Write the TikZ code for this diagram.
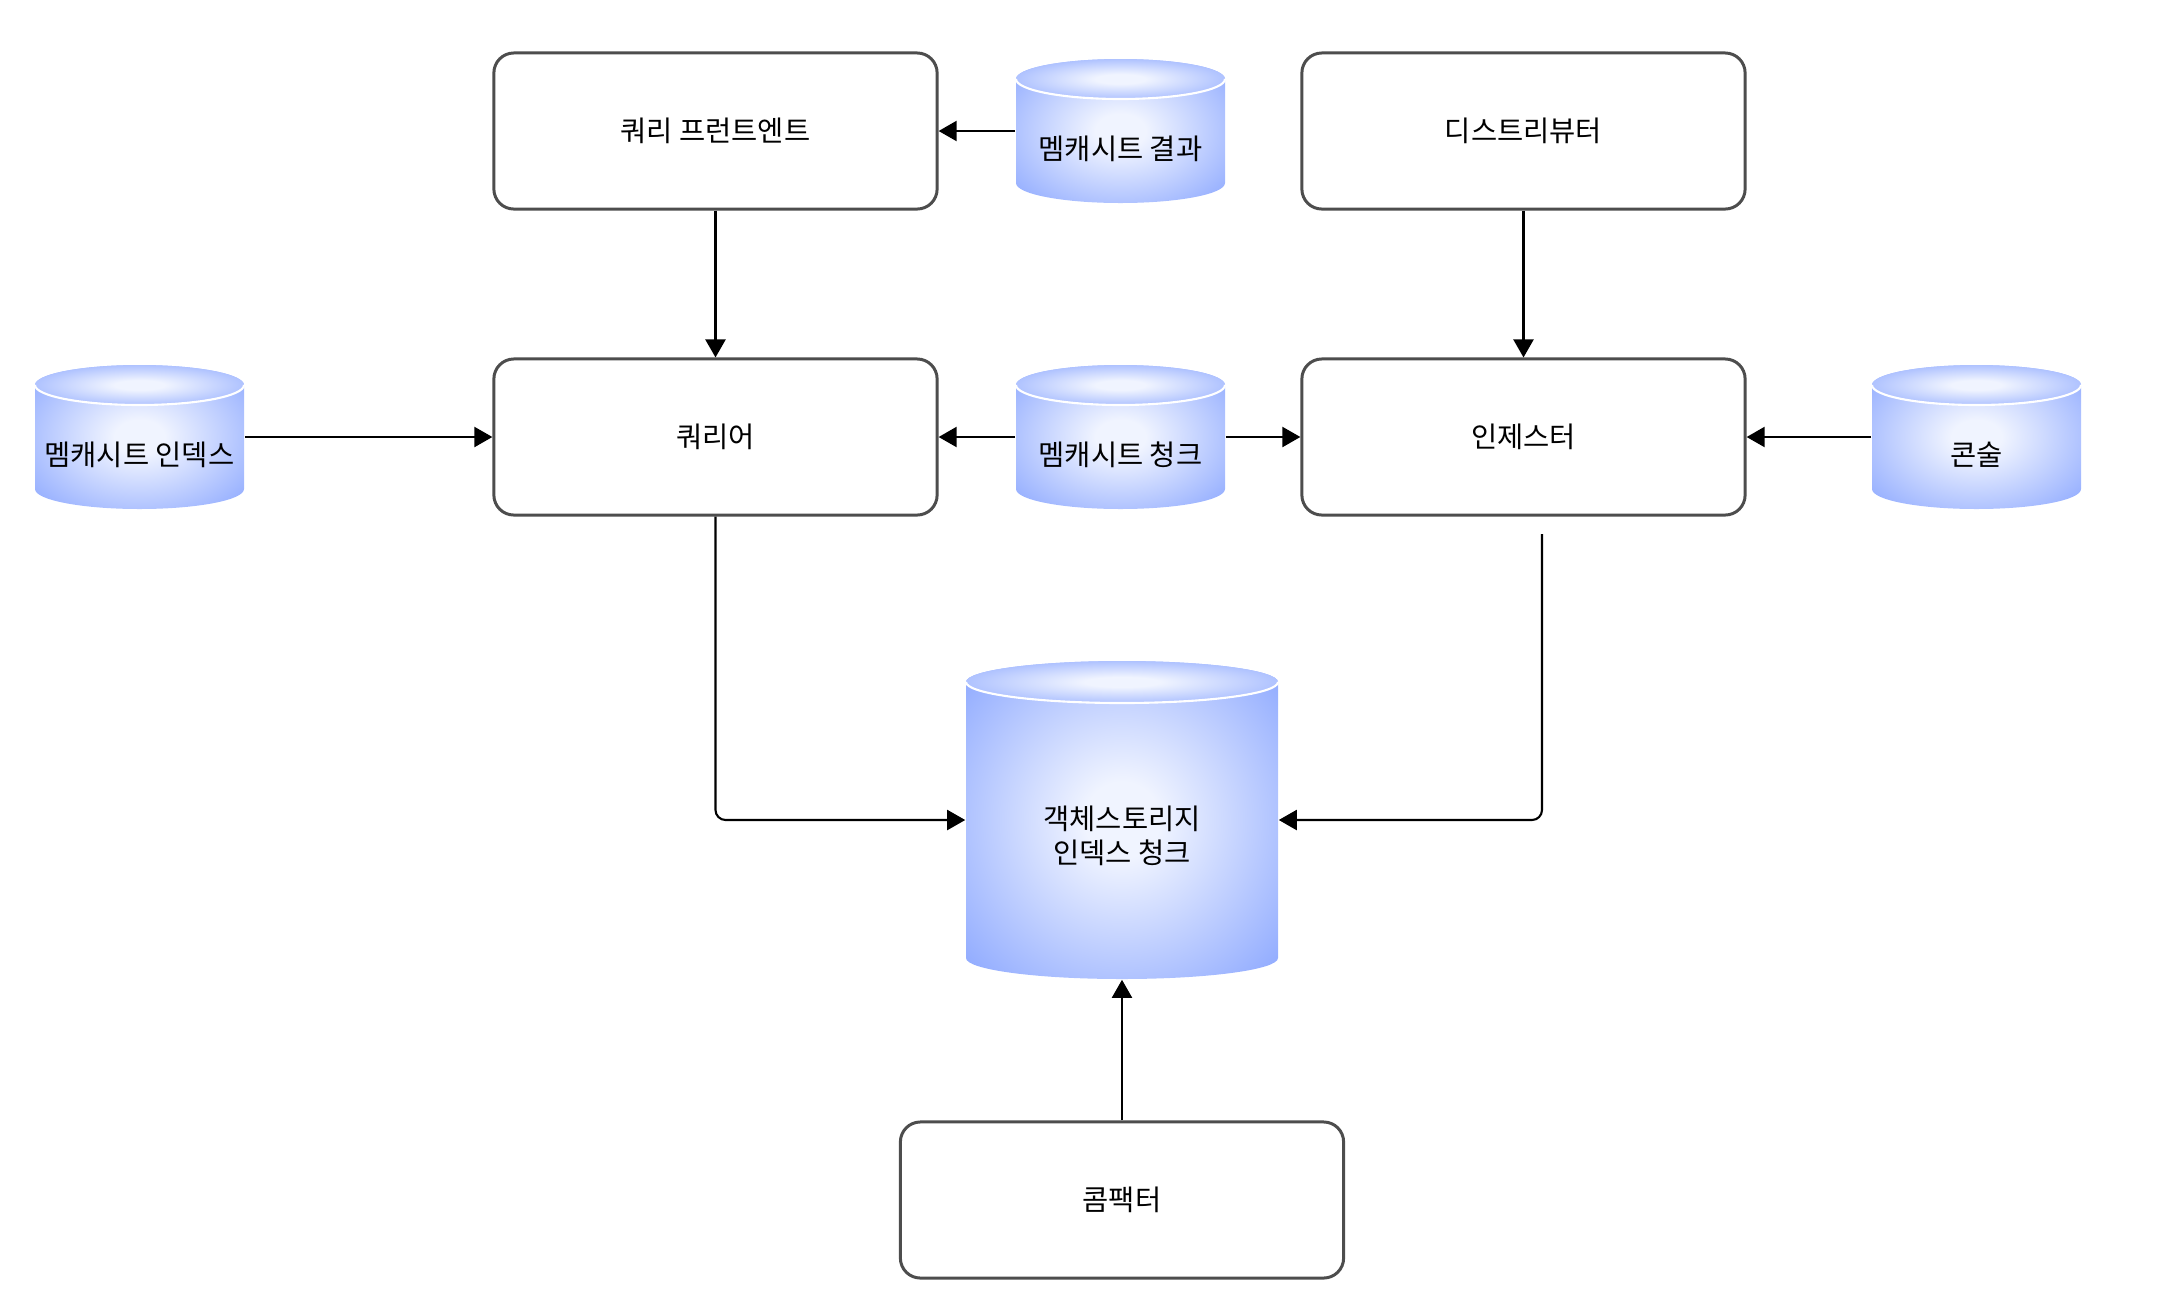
\documentclass[tikz,border=0pt]{standalone}
\usepackage{fontspec}
\setmainfont{Noto Sans CJK KR}
\usepackage{tikz}
\usetikzlibrary{arrows.meta,positioning}
\definecolor{boxgray}{HTML}{4D4D4D}
\definecolor{cylblue}{RGB}{138,166,255}
\definecolor{cylcore}{RGB}{240,244,255}
\pgfdeclareradialshading{cylrad}{\pgfpoint{0bp}{0bp}}{color(0bp)=(cylcore); color(6bp)=(cylcore); color(36bp)=(cylblue); color(50bp)=(cylblue)}

\begin{document}
\begin{tikzpicture}[x=0.01cm, y=0.01cm]
\tikzstyle{every node}+=[inner sep=0pt, font=\fontsize{8.1pt}{9.6pt}\selectfont]
\tikzstyle{procbox}=[draw=boxgray, line width=0.85pt, rounded corners=0.2cm, fill=white, minimum width=4.43cm, minimum height=1.56cm]
\tikzstyle{cylnode}=[minimum width=2.09cm, minimum height=1.44cm]
\tikzstyle{cylshade}=[shading=cylrad]
\tikzstyle{rim}=[draw=white, line width=0.6pt]
\tikzstyle{flow}=[-{Triangle[length=0.18cm,width=0.2cm]}, line width=0.6pt]
\useasboundingbox (0,0) rectangle (2168,-1302);
% cylinders
\shade[cylshade] (1016,-79) arc (180:0:104.5 and 20) -- (1225,-183) arc (0:-180:104.5 and 20) -- cycle;
\shade[cylshade] (1120.5,-79) ellipse (104.5 and 20);
\draw[rim] (1016,-79) arc (180:360:104.5 and 20);
\shade[cylshade] (35,-385) arc (180:0:104.5 and 20) -- (244,-489) arc (0:-180:104.5 and 20) -- cycle;
\shade[cylshade] (139.5,-385) ellipse (104.5 and 20);
\draw[rim] (35,-385) arc (180:360:104.5 and 20);
\shade[cylshade] (1016,-385) arc (180:0:104.5 and 20) -- (1225,-489) arc (0:-180:104.5 and 20) -- cycle;
\shade[cylshade] (1120.5,-385) ellipse (104.5 and 20);
\draw[rim] (1016,-385) arc (180:360:104.5 and 20);
\shade[cylshade] (1872,-385) arc (180:0:104.5 and 20) -- (2081,-489) arc (0:-180:104.5 and 20) -- cycle;
\shade[cylshade] (1976.5,-385) ellipse (104.5 and 20);
\draw[rim] (1872,-385) arc (180:360:104.5 and 20);
\shade[cylshade] (966,-682) arc (180:0:156 and 21) -- (1278,-958) arc (0:-180:156 and 21) -- cycle;
\shade[cylshade] (1122,-682) ellipse (156 and 21);
\draw[rim] (966,-682) arc (180:360:156 and 21);
\node[cylnode, label={[yshift=-0.18cm]center:멤캐시트 결과}] (mcres) at (1120.5,-131) {};
\node[cylnode, label={[yshift=-0.18cm]center:멤캐시트 인덱스}] (mcidx) at (139.5,-437) {};
\node[cylnode, label={[yshift=-0.18cm]center:멤캐시트 청크}] (mcchunk) at (1120.5,-437) {};
\node[cylnode, label={[yshift=-0.18cm]center:콘술}] (consul) at (1976.5,-437) {};
\node[cylnode, minimum width=3.12cm, minimum height=3.18cm, label={[yshift=-0.16cm, align=center]center:객체스토리지\\인덱스 청크}] (objst) at (1122,-820) {};
% components
\node[procbox] (qfront) at (715.5,-131) {쿼리 프런트엔트};
\node[procbox] (distrib) at (1523.5,-131) {디스트리뷰터};
\node[procbox] (querier) at (715.5,-437) {쿼리어};
\node[procbox] (ingester) at (1523.5,-437) {인제스터};
\node[procbox] (compactor) at (1122,-1200) {콤팩터};
% flows
\draw[flow] (mcres.west) -- (qfront.east);
\draw[flow] (qfront.south) -- (querier.north);
\draw[flow] (distrib.south) -- (ingester.north);
\draw[flow] (mcidx.east) -- (querier.west);
\draw[flow] (mcchunk.west) -- (querier.east);
\draw[flow] (mcchunk.east) -- (ingester.west);
\draw[flow] (consul.west) -- (ingester.east);
\draw[flow, rounded corners=0.1cm] (querier.south) |- (objst.west);
\coordinate (ingout) at (1542,-534);
\draw[flow, rounded corners=0.1cm] (ingout) |- (objst.east);
\draw[flow] (compactor.north) -- (objst.south);
\end{tikzpicture}
\end{document}
